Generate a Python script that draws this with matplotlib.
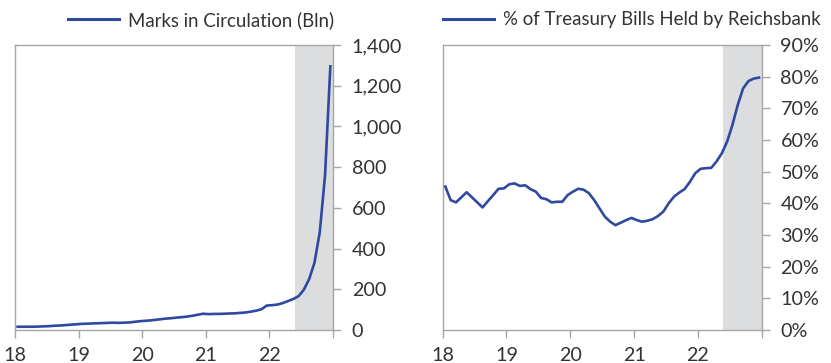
import matplotlib
matplotlib.use("Agg")
import matplotlib.pyplot as plt
import numpy as np

# ---- data (monthly, Jan 1918 - Dec 1922) ----
years = [18, 19, 20, 21, 22]
marks_bln = [
    16, 16, 16, 16, 17, 18, 19, 21, 22, 24, 26, 28,          # 1918
    30, 31, 32, 33, 34, 35, 36, 35, 36, 37, 40, 43,          # 1919
    45, 47, 50, 53, 56, 58, 61, 63, 66, 70, 75, 80,          # 1920
    78, 79, 79, 80, 81, 82, 84, 86, 90, 95, 102, 120,        # 1921
    122, 125, 132, 142, 152, 166, 198, 250, 330, 480, 760, 1295,  # 1922
]
tbills_pct = [
    45.3, 41.0, 40.3, 41.9, 43.5, 41.9, 40.3, 38.7, 40.7, 42.6, 44.6, 44.7,
    46.0, 46.3, 45.5, 45.7, 44.5, 43.7, 41.7, 41.3, 40.3, 40.5, 40.5, 42.6,
    43.7, 44.6, 44.3, 43.2, 41.0, 38.4, 35.8, 34.2, 33.1, 33.9, 34.7, 35.4,
    34.7, 34.2, 34.5, 35.0, 36.0, 37.4, 40.0, 42.1, 43.4, 44.5, 46.8, 49.5,
    50.9, 51.1, 51.2, 53.2, 55.8, 59.5, 64.8, 71.1, 76.3, 78.6, 79.4, 79.7,
]
shade_start = 22.4
shade_end = 23.0
left_label = "Marks in Circulation (Bln)"
right_label = "% of Treasury Bills Held by Reichsbank"
left_yticks = [0, 200, 400, 600, 800, 1000, 1200, 1400]
right_yticks = [0, 10, 20, 30, 40, 50, 60, 70, 80, 90]

# ---- style ----
FONT = "Lato"
TXT = "#333333"
SPINE = "#a6a6a6"
LINE = "#2f48a0"
SHADE = "#dcdddf"
FS = 14.2
LFS = 13.4

plt.rcParams["font.family"] = [FONT, "DejaVu Sans"]

W, H = 831, 363
fig = plt.figure(figsize=(W / 100, H / 100), dpi=100)

x = np.arange(len(marks_bln)) / 12.0 + years[0] + 0.5 / 12.0


def style_axes(ax, yticks, fmt):
    ax.set_xlim(18, 23)
    ax.set_ylim(yticks[0], yticks[-1])
    ax.axvspan(shade_start, shade_end, color=SHADE, lw=0, zorder=0)
    for s in ax.spines.values():
        s.set_color(SPINE)
        s.set_linewidth(1.0)
    ax.yaxis.tick_right()
    ax.set_yticks(yticks)
    ax.set_yticklabels([fmt(v) for v in yticks])
    ax.set_xticks(list(years) + [23])
    ax.set_xticklabels([str(y) for y in years] + [""])
    ax.tick_params(axis="both", direction="out", length=5.5, width=1.0,
                   color=SPINE, labelcolor=TXT, labelsize=FS)
    ax.tick_params(axis="y", pad=8)
    ax.tick_params(axis="x", pad=6.5)


ax1 = fig.add_axes([15 / W, (H - 330) / H, (333 - 15) / W, 285 / H])
ax1.plot(x, marks_bln, color=LINE, lw=1.9, zorder=3, label=left_label)
style_axes(ax1, left_yticks, lambda v: f"{v:,}")

ax2 = fig.add_axes([442.7 / W, (H - 330) / H, (761.7 - 442.7) / W, 285 / H])
ax2.plot(x, tbills_pct, color=LINE, lw=1.9, zorder=3, label=right_label)
style_axes(ax2, right_yticks, lambda v: f"{v}%")

for ax, xl in ((ax1, 68), (ax2, 443)):
    leg = ax.legend(loc="center left", bbox_to_anchor=(xl / W, 1 - 20 / H),
                    bbox_transform=fig.transFigure, frameon=False,
                    fontsize=LFS, handlelength=2.75, handletextpad=0.45,
                    borderpad=0, borderaxespad=0)
    for t in leg.get_texts():
        t.set_color(TXT)
    for l in leg.get_lines():
        l.set_linewidth(2.2)

fig.savefig("out.png", dpi=100)
